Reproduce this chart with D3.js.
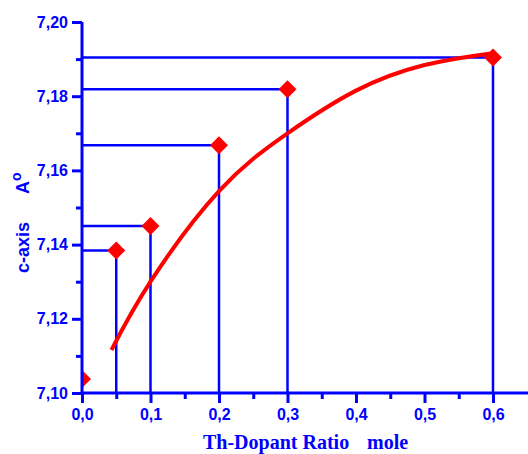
<!DOCTYPE html>
<html>
<head>
<meta charset="utf-8">
<script src="https://cdn.jsdelivr.net/npm/d3@7"></script>
<style>
  html, body { margin: 0; padding: 0; background: #fff; }
  svg { display: block; }
</style>
</head>
<body>
<svg id="chart" width="528" height="454"></svg>
<script>
// ---- data ----
const dopantRatio = [0, 0.05, 0.1, 0.2, 0.3, 0.6];
const cAxis = [7.1038, 7.1384, 7.1450, 7.1668, 7.1819, 7.1904];
const fitX = [0.043, 0.1, 0.2, 0.3, 0.4, 0.5, 0.6];
const fitY = [7.1116, 7.1300, 7.1544, 7.1700, 7.1815, 7.1884, 7.1916];
const xMajorTicks = [0, 0.1, 0.2, 0.3, 0.4, 0.5, 0.6];
const xMinorTicks = [0.05, 0.15, 0.25, 0.35, 0.45, 0.55];
const yMajorTicks = [7.10, 7.12, 7.14, 7.16, 7.18, 7.20];
const yMinorTicks = [7.11, 7.13, 7.15, 7.17, 7.19];
const xTitle = ["Th-Dopant Ratio", "mole"];
const yTitle = ["c-axis", "A", "o"];

const BLUE = "#0000ff", RED = "#ff0000";
const svg = d3.select("#chart");
const locale = d3.formatLocale({decimal: ",", thousands: ".", grouping: [3], currency: ["", ""]});
const fx = locale.format(".1f"), fy = locale.format(".2f");

const x = d3.scaleLinear().domain([0, 0.65]).range([82, 527.25]);
const y = d3.scaleLinear().domain([7.10, 7.20]).range([393, 22]);

svg.append("defs").append("clipPath").attr("id", "plot")
  .append("rect").attr("x", x(0)).attr("y", 0).attr("width", 528 - x(0)).attr("height", y(7.10) + 1);

const pts = dopantRatio.map((d, i) => ({x: d, y: cAxis[i]}));

// drop lines
const g = svg.append("g").attr("clip-path", "url(#plot)");
g.selectAll("line.h").data(pts.filter(d => d.x > 0)).enter().append("line")
  .attr("x1", x(0)).attr("x2", d => x(d.x)).attr("y1", d => y(d.y)).attr("y2", d => y(d.y))
  .attr("stroke", BLUE).attr("stroke-width", 2.5);
g.selectAll("line.v").data(pts.filter(d => d.x > 0)).enter().append("line")
  .attr("x1", d => x(d.x)).attr("x2", d => x(d.x)).attr("y1", d => y(d.y)).attr("y2", y(7.10))
  .attr("stroke", BLUE).attr("stroke-width", 2.5);

// fit curve
const fit = fitX.map((d, i) => [d, fitY[i]]);
g.append("path").datum(fit)
  .attr("d", d3.line().x(d => x(d[0])).y(d => y(d[1])).curve(d3.curveNatural))
  .attr("fill", "none").attr("stroke", RED).attr("stroke-width", 4);

// markers
const sym = d3.symbol().type(d3.symbolSquare).size(162);
g.selectAll("path.pt").data(pts).enter().append("path")
  .attr("d", sym)
  .attr("transform", d => `translate(${x(d.x)},${y(d.y)}) rotate(45)`)
  .attr("fill", RED);

// axes
const xAxis = svg.append("g").attr("transform", `translate(0,${y(7.10)})`);
xAxis.call(d3.axisBottom(x).tickValues(xMajorTicks).tickFormat(fx).tickSize(10).tickPadding(6));
xAxis.append("g").call(d3.axisBottom(x).tickValues(xMinorTicks).tickFormat("").tickSize(6))
  .select(".domain").remove();
const yAxis = svg.append("g").attr("transform", `translate(${x(0)},0)`);
yAxis.call(d3.axisLeft(y).tickValues(yMajorTicks).tickFormat(fy).tickSize(10).tickPadding(4));
yAxis.append("g").call(d3.axisLeft(y).tickValues(yMinorTicks).tickFormat("").tickSize(6))
  .select(".domain").remove();

svg.selectAll(".domain").attr("stroke", BLUE).attr("stroke-width", 3);
xAxis.select(".domain").attr("d", `M${x(0)},0H528`);
yAxis.select(".domain").attr("d", `M0,${y(7.20)}V${y(7.10)}`);
svg.selectAll(".tick line").attr("stroke", BLUE).attr("stroke-width", 3);
svg.selectAll(".tick text").attr("fill", BLUE)
  .style("font-family", "'Liberation Sans', Arial, sans-serif")
  .style("font-size", "16px").style("font-weight", "bold");

// titles
const xSty = s => s.attr("fill", BLUE).style("font-family", "'Liberation Serif', 'Times New Roman', serif")
  .style("font-size", "20px").style("font-weight", "bold");
svg.append("text").attr("x", 203).attr("y", 449).text(xTitle[0]).call(xSty);
svg.append("text").attr("x", 367).attr("y", 449).text(xTitle[1]).call(xSty);

const ySty = s => s.attr("fill", BLUE).style("font-family", "'Liberation Sans', Arial, sans-serif")
  .style("font-weight", "bold");
svg.append("text").attr("transform", "translate(29,273) rotate(-90)").text(yTitle[0])
  .style("font-size", "18px").call(ySty);
svg.append("text").attr("transform", "translate(29,194) rotate(-90)").text(yTitle[1])
  .style("font-size", "18px").call(ySty);
svg.append("text").attr("transform", "translate(21,181) rotate(-90)").text(yTitle[2])
  .style("font-size", "14px").call(ySty);
</script>
</body>
</html>
